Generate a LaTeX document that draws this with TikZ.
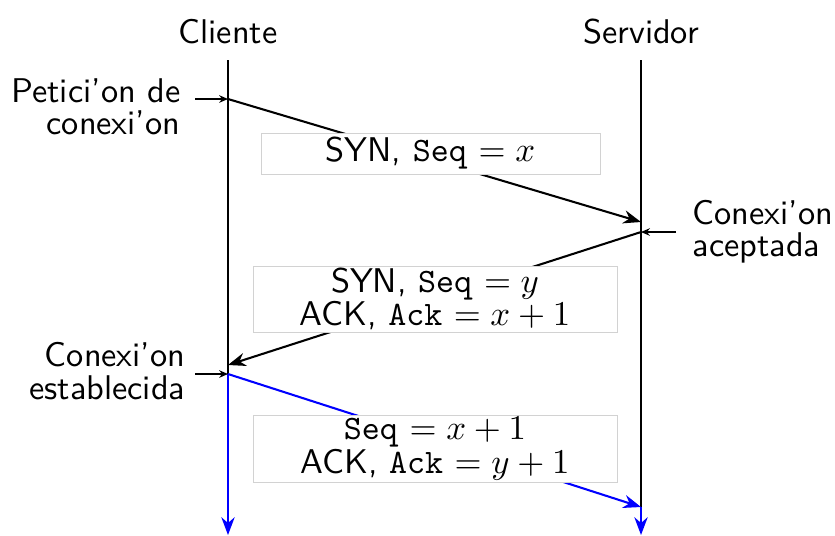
\documentclass[tikz,border=0pt]{standalone}
\usepackage{amsmath}
\usetikzlibrary{arrows.meta,positioning}

\begin{document}
\begin{tikzpicture}[
    x=0.315pt, y=-0.315pt,
    msg/.style={draw=gray!35, line width=0.2pt, fill=white, align=center, inner sep=0pt, font=\sffamily\fontsize{10.8}{10.5}\selectfont},
    note/.style={inner sep=0pt, font=\sffamily\fontsize{10.8}{10.2}\selectfont},
    arrow/.style={-{Stealth[length=5.6pt, width=4.2pt]}, line width=0.65pt},
    tick/.style={-{Stealth[length=2.8pt, width=2.4pt]}, line width=0.4pt}
]
    \useasboundingbox (0,0) rectangle (835,535);

    % time lines
    \coordinate (c0) at (228,60);
    \coordinate (c1) at (228,99);
    \coordinate (c2) at (228,365);
    \coordinate (c3) at (228,374);
    \coordinate (c4) at (228,535);
    \coordinate (s0) at (641,60);
    \coordinate (s1) at (641,222);
    \coordinate (s2) at (641,232);
    \coordinate (s3) at (641,507);
    \coordinate (s4) at (641,535);

    \node [note] (cliente) at (228,32) {Cliente};
    \node [note] (servidor) at (641,32) {Servidor};

    \draw [line width=0.65pt] (c0) -- (c3);
    \draw [arrow, blue] (c3) -- (c4);
    \draw [line width=0.65pt] (s0) -- (s3);
    \draw [arrow, blue] (s3) -- (s4);

    % segments
    \draw [arrow] (c1) -- (s1);
    \node [msg, minimum width=106.8pt, minimum height=12.9pt] (syn) at (430.5,153.5) {SYN, \texttt{Seq} $= x$};

    \draw [arrow] (s2) -- (c2);
    \node [msg, minimum width=114.7pt, minimum height=20.8pt] (synack) at (435,299) {SYN, \texttt{Seq} $= y$\\ACK, \texttt{Ack} $= x+1$};

    \draw [arrow, blue] (c3) -- (s3);
    \node [msg, minimum width=114.7pt, minimum height=21.1pt] (ack) at (435,448.5) {\texttt{Seq} $= x+1$\\ACK, \texttt{Ack} $= y+1$};

    % events
    \coordinate (p1) at (195,99);
    \coordinate (p2) at (676,232);
    \coordinate (p3) at (195,374);
    \draw [tick] (p1) -- (c1);
    \draw [tick] (p2) -- (s2);
    \draw [tick] (p3) -- (c3);

    \node [note, align=right, anchor=east] (peticion) at (181,107) {Petici'on de\\conexi'on};
    \node [note, align=left, anchor=west] (aceptada) at (692,232) {Conexi'on\\aceptada};
    \node [note, align=right, anchor=east] (establecida) at (186,371) {Conexi'on\\establecida};

\end{tikzpicture}
\end{document}
